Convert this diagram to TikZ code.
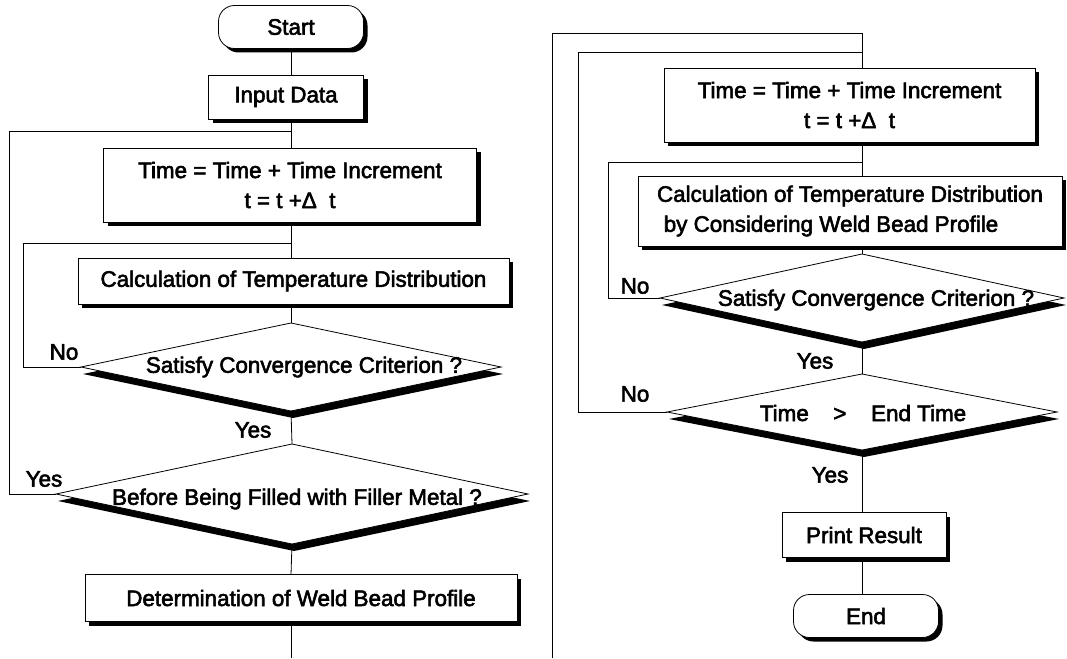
\documentclass[tikz,border=0pt]{standalone}
\usepackage{fontspec}
\setmainfont{Liberation Sans}[FakeBold=2.5]
\usetikzlibrary{shapes.geometric,shadows,calc}
\begin{document}
\begin{tikzpicture}[x=1pt,y=-1pt,
  font=\fontsize{22.4}{30}\selectfont,
  line width=0.8pt,
  box/.style={draw, fill=white, inner sep=0pt, outer sep=0pt,
    drop shadow={shadow xshift=4pt, shadow yshift=-4pt, fill=black, opacity=1}},
  term/.style={box, rounded corners=16pt},
  dec/.style={draw, fill=white, diamond, inner sep=0pt, outer sep=0pt,
    drop shadow={shadow xshift=2pt, shadow yshift=-7pt, fill=black, opacity=1}},
  lbl/.style={inner sep=0pt, outer sep=0pt}]

\useasboundingbox (0,0) rectangle (1067,658);

% ---------- left column ----------
\coordinate (colL) at (291,0);
\node[term, minimum width=145pt, minimum height=43pt] (start) at (291,27) {Start};
\node[box, minimum width=155pt, minimum height=44pt] (input) at (286,97) {Input Data};
\node[box, minimum width=373pt, minimum height=74pt, align=center] (timeL) at (290,185)
  {Time = Time + Time Increment\\t = t +Δ\ \ t};
\node[box, minimum width=431pt, minimum height=46pt] (calcL) at (293.5,281)
  {Calculation of Temperature Distribution};
\node[dec, minimum width=420pt, minimum height=88pt] (d1) at (291,367) {};
\node[lbl] (d1t) at (304,367) {Satisfy Convergence Criterion ?};
\node[dec, minimum width=472pt, minimum height=100pt] (d2) at (292,494) {};
\node[lbl] (d2t) at (297,499) {Before Being Filled with Filler Metal ?};
\node[box, minimum width=432pt, minimum height=47pt] (detL) at (301,598)
  {Determination of Weld Bead Profile};
\coordinate (botL) at (291,658);

\node[lbl] (noL) at (64,352) {No};
\node[lbl] (yesL1) at (253,430) {Yes};
\node[lbl] (yesL2) at (44,479) {Yes};

\draw (start.south -| colL) -- (input.north -| colL);
\draw (input.south -| colL) -- (timeL.north -| colL);
\draw (timeL.south -| colL) -- (calcL.north -| colL);
\draw (calcL.south -| colL) -- (d1.north);
\draw (d1.south) -- (d2.north);
\draw (d2.south) -- (detL.north -| colL);
\draw (detL.south -| colL) -- (botL);

\coordinate (jL1) at (291,243);
\coordinate (cL1) at (23,243);
\draw (d1.west) -| (cL1) -- (jL1);
\coordinate (jL2) at (291,131);
\coordinate (cL2) at (9,131);
\draw (d2.west) -| (cL2) -- (jL2);

% ---------- right column ----------
\coordinate (colR) at (862,0);
\node[box, minimum width=371pt, minimum height=74pt, align=center] (timeR) at (849.5,105)
  {Time = Time + Time Increment\\t = t +Δ\ \ t};
\node[box, minimum width=424pt, minimum height=70pt, align=left] (calcR) at (850,211)
  {Calculation of Temperature Distribution\\\hspace*{0.3em}by Considering Weld Bead Profile};
\node[dec, minimum width=404pt, minimum height=88pt] (d3) at (862,298) {};
\node[lbl] (d3t) at (876,300) {Satisfy Convergence Criterion ?};
\node[dec, minimum width=390pt, minimum height=76pt] (d4) at (862,412) {};
\node[lbl] (d4t) at (863,413) {Time\hspace{1.1em}>\hspace{1.1em}End Time};
\node[box, minimum width=164pt, minimum height=45pt] (print) at (864,535) {Print Result};
\node[term, minimum width=145pt, minimum height=43pt] (end) at (866,616) {End};

\node[lbl] (noR1) at (635,286) {No};
\node[lbl] (yesR1) at (815,361) {Yes};
\node[lbl] (noR2) at (635,394) {No};
\node[lbl] (yesR2) at (830,475) {Yes};

\coordinate (botR) at (552,658);
\coordinate (topR1) at (552,33);
\coordinate (jR1) at (862,33);
\draw (botR) -- (topR1) -- (jR1) -- (timeR.north -| colR);
\coordinate (cR2) at (578,52);
\coordinate (jR2) at (862,52);
\draw (d4.west) -| (cR2) -- (jR2);
\coordinate (cR3) at (608,162);
\coordinate (jR3) at (862,162);
\draw (d3.west) -| (cR3) -- (jR3);

\draw (timeR.south -| colR) -- (calcR.north -| colR);
\draw (calcR.south -| colR) -- (d3.north);
\draw (d3.south) -- (d4.north);
\draw (d4.south) -- (print.north -| colR);
\draw (print.south -| colR) -- (end.north -| colR);
\end{tikzpicture}
\end{document}
